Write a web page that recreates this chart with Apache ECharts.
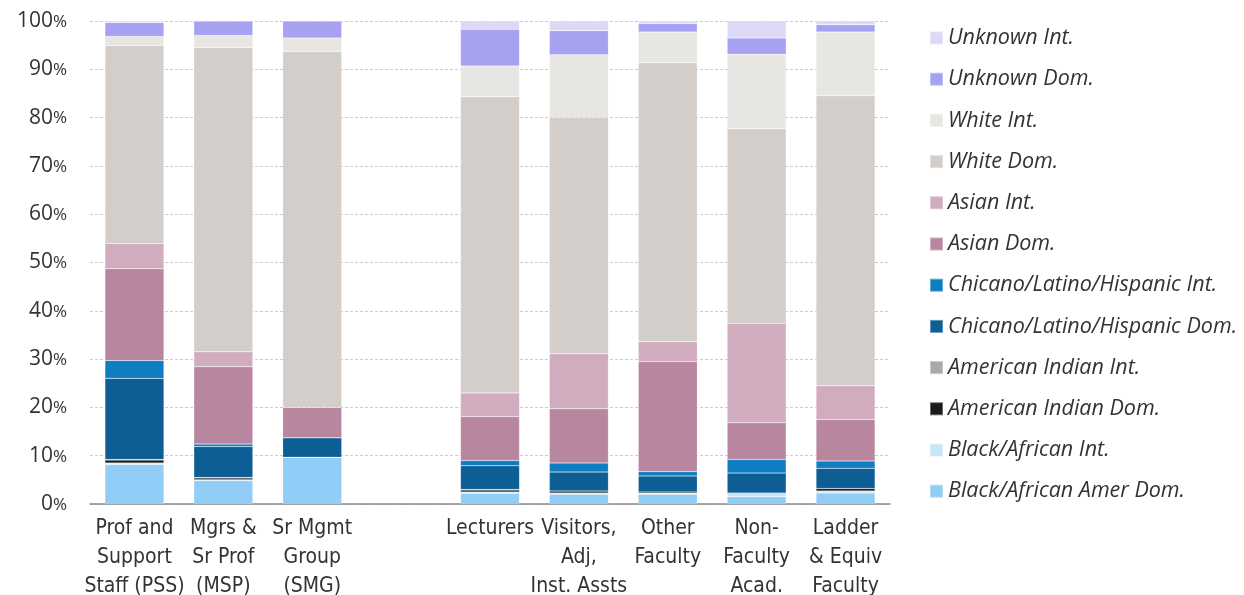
<!DOCTYPE html>
<html lang="en">
<head>
<meta charset="UTF-8">
<title>Staff and faculty by ethnicity</title>
<script src="https://cdn.jsdelivr.net/npm/echarts@6/dist/echarts.min.js"></script>
<style>
  html, body { margin: 0; padding: 0; background: #fff; }
  #main { width: 1244px; height: 595px; }
</style>
</head>
<body>
<div id="main"></div>
<script>
// categories (the empty one is the gap between staff and faculty groups)
var categories = [
  'Prof and\nSupport\nStaff (PSS)', 'Mgrs &\nSr Prof\n(MSP)', 'Sr Mgmt\nGroup\n(SMG)', '',
  'Lecturers', 'Visitors,\nAdj,\nInst. Assts', 'Other\nFaculty', 'Non-\nFaculty\nAcad.', 'Ladder\n& Equiv\nFaculty'
];

// percentages per group, bottom of stack first
var blackDom    = [8.2, 4.8, 9.7, '-', 2.2, 2.0, 2.0, 1.5, 2.3];
var blackInt    = [0.3, 0.2, 0.0, '-', 0.3, 0.3, 0.2, 0.6, 0.4];
var amIndDom    = [0.6, 0.4, 0.0, '-', 0.4, 0.4, 0.3, 0.2, 0.5];
var amIndInt    = [0.1, 0.1, 0.0, '-', 0.1, 0.0, 0.0, 0.0, 0.0];
var chicanoDom  = [16.8, 6.4, 4.0, '-', 4.9, 3.9, 3.3, 4.1, 4.2];
var chicanoInt  = [3.7, 0.5, 0.0, '-', 1.1, 1.9, 0.9, 2.8, 1.5];
var asianDom    = [19.0, 16.0, 6.3, '-', 9.1, 11.2, 22.8, 7.6, 8.6];
var asianInt    = [5.2, 3.1, 0.0, '-', 4.9, 11.4, 4.1, 20.6, 7.0];
var whiteDom    = [41.0, 63.0, 73.7, '-', 61.3, 48.9, 57.8, 40.3, 60.0];
var whiteInt    = [1.9, 2.5, 2.8, '-', 6.4, 13.0, 6.3, 15.4, 13.2];
var unknownDom  = [2.9, 3.0, 3.5, '-', 7.6, 5.0, 1.8, 3.4, 1.5];
var unknownInt  = [0.3, 0.0, 0.0, '-', 1.7, 2.0, 0.5, 3.5, 0.8];

var yTicks = [0, 10, 20, 30, 40, 50, 60, 70, 80, 90, 100];

var seriesDefs = [
  ['Black/African Amer Dom.', blackDom, '#91cdf6'],
  ['Black/African Int.', blackInt, '#c8e6f8'],
  ['American Indian Dom.', amIndDom, '#1a1a1a'],
  ['American Indian Int.', amIndInt, '#a9a9a9'],
  ['Chicano/Latino/Hispanic Dom.', chicanoDom, '#0d5e94'],
  ['Chicano/Latino/Hispanic Int.', chicanoInt, '#0f7dc2'],
  ['Asian Dom.', asianDom, '#b8869f'],
  ['Asian Int.', asianInt, '#d1abbe'],
  ['White Dom.', whiteDom, '#d3ceca'],
  ['White Int.', whiteInt, '#e7e6e3'],
  ['Unknown Dom.', unknownDom, '#a7a1f2'],
  ['Unknown Int.', unknownInt, '#dcd9f7']
];

var myChart = echarts.init(document.getElementById('main'));

var series = seriesDefs.map(function (d) {
  return {
    name: d[0],
    type: 'bar',
    stack: 'total',
    barWidth: 59,
    data: d[1],
    itemStyle: { color: d[2], borderColor: 'rgba(255,255,255,0.35)', borderWidth: 0.5 }
  };
});

var option = {
  animation: false,
  textStyle: { fontFamily: '"Open Sans", sans-serif' },
  grid: { left: 90, right: 354, top: 21, bottom: 91, containLabel: false, outerBoundsMode: 'none' },
  legend: {
    orient: 'vertical',
    left: 929,
    top: 24,
    padding: 0,
    itemWidth: 13,
    itemHeight: 13,
    itemGap: 13.2,
    icon: 'rect',
    data: seriesDefs.map(function (d) { return d[0]; }).reverse(),
    textStyle: { fontSize: 21.5, lineHeight: 28, fontStyle: 'italic', color: '#333', padding: [0, 0, 0, 0], fontFamily: '"Open Sans", sans-serif' }
  },
  xAxis: {
    type: 'category',
    data: categories,
    axisTick: { show: false },
    axisLine: { lineStyle: { color: '#888', width: 1.5 } },
    axisLabel: {
      interval: 0,
      color: '#333',
      fontSize: 21,
      lineHeight: 29,
      margin: 10,
      fontFamily: '"Liberation Sans Narrow", "DejaVu Sans Condensed", sans-serif'
    }
  },
  yAxis: {
    type: 'value',
    min: 0,
    max: 100,
    interval: 10,
    axisLine: { show: false },
    axisTick: { show: false },
    splitLine: { lineStyle: { color: '#ccc', type: [3, 2] } },
    axisLabel: {
      margin: 23,
      color: '#333',
      formatter: function (v) { return yTicks.indexOf(v) >= 0 ? '{n|' + v + '}{p|%}' : ''; },
      rich: {
        n: { fontSize: 21, color: '#333', fontFamily: '"Open Sans", sans-serif' },
        p: { fontSize: 17, color: '#333', fontFamily: '"Open Sans", sans-serif', padding: [2, 0, 0, 0] }
      }
    }
  },
  series: series
};

myChart.setOption(option);
</script>
</body>
</html>
